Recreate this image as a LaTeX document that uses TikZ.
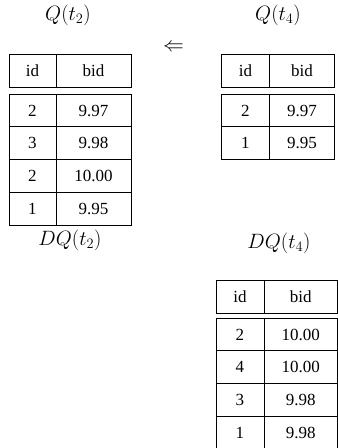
\documentclass[tikz,border=0pt]{standalone}
\usepackage{fontspec}
\setmainfont{Liberation Serif}
\begin{document}
\begin{tikzpicture}[x=1pt,y=-1pt,
  cell/.style={draw,line width=0.9pt,inner sep=0pt,anchor=north west,
    minimum height=32.8pt,text height=11.5pt,text depth=0pt,
    font=\fontsize{17}{20}\selectfont},
  hcell/.style={cell,minimum height=33pt},
  lbl/.style={inner sep=0pt,font=\fontsize{21}{24}\selectfont}]
\useasboundingbox (0,0) rectangle (338,448);
% labels
\node[lbl] (l1) at (68,15.5) {$Q(t_2)$};
\node[lbl] (l2) at (278,15.5) {$Q(t_4)$};
\node[lbl] (l3) at (70,240.5) {$DQ(t_2)$};
\node[lbl] (l4) at (279,243.5) {$DQ(t_4)$};
\node[lbl] (arr) at (173.5,47.5) {$\Leftarrow$};
% table 1
\node[hcell,minimum width=47pt] (a0i) at (8.5,53.5) {id};
\node[hcell,minimum width=75pt] (a0b) at (55.5,53.5) {bid};
\node[cell,minimum width=47pt] (a1i) at (8.5,93.5) {2};
\node[cell,minimum width=75pt] (a1b) at (55.5,93.5) {9.97};
\node[cell,minimum width=47pt] (a2i) at (8.5,126.3) {3};
\node[cell,minimum width=75pt] (a2b) at (55.5,126.3) {9.98};
\node[cell,minimum width=47pt] (a3i) at (8.5,159.1) {2};
\node[cell,minimum width=75pt] (a3b) at (55.5,159.1) {10.00};
\node[cell,minimum width=47pt] (a4i) at (8.5,191.9) {1};
\node[cell,minimum width=75pt] (a4b) at (55.5,191.9) {9.95};
% table 2
\node[hcell,minimum width=48pt] (b0i) at (221,53.5) {id};
\node[hcell,minimum width=65pt] (b0b) at (269,53.5) {bid};
\node[cell,minimum width=48pt] (b1i) at (221,93.5) {2};
\node[cell,minimum width=65pt] (b1b) at (269,93.5) {9.97};
\node[cell,minimum width=48pt] (b2i) at (221,126.3) {1};
\node[cell,minimum width=65pt] (b2b) at (269,126.3) {9.95};
% table 3
\node[hcell,minimum width=48pt] (c0i) at (215.5,279.5) {id};
\node[hcell,minimum width=73.5pt] (c0b) at (263.5,279.5) {bid};
\node[cell,minimum width=48pt] (c1i) at (215.5,317.5) {2};
\node[cell,minimum width=73.5pt] (c1b) at (263.5,317.5) {10.00};
\node[cell,minimum width=48pt] (c2i) at (215.5,350.3) {4};
\node[cell,minimum width=73.5pt] (c2b) at (263.5,350.3) {10.00};
\node[cell,minimum width=48pt] (c3i) at (215.5,383.1) {3};
\node[cell,minimum width=73.5pt] (c3b) at (263.5,383.1) {9.98};
\node[cell,minimum width=48pt] (c4i) at (215.5,415.9) {1};
\node[cell,minimum width=73.5pt] (c4b) at (263.5,415.9) {9.98};
\end{tikzpicture}
\end{document}
